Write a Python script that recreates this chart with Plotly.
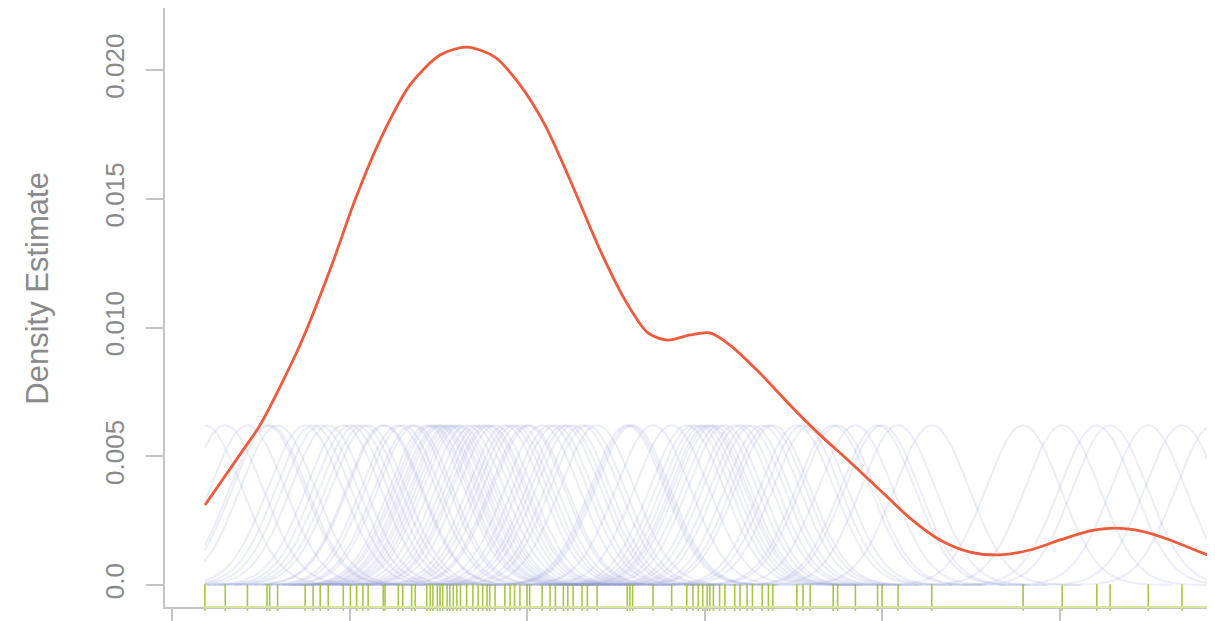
import plotly.graph_objects as go
import numpy as np

# ---- data ----
rug_x = [3.7, 6.0, 8.5, 10.7, 11.0, 11.9, 15.0, 15.9, 16.7, 17.6, 19.3, 20.1, 20.8, 21.5,
         22.1, 23.8, 24.0, 25.5, 26.0, 27.0, 27.4, 28.7, 29.1, 29.4, 29.9, 30.2, 30.5, 31.0,
         31.3, 31.7, 32.1, 32.5, 33.2, 33.9, 34.5, 35.0, 35.5, 35.8, 36.4, 37.5, 38.1, 38.6,
         39.2, 40.0, 40.3, 41.7, 42.6, 43.2, 44.1, 44.6, 45.2, 46.2, 46.8, 47.9, 51.3, 51.6,
         51.9, 54.2, 56.3, 58.0, 58.7, 59.3, 59.8, 60.3, 60.6, 61.0, 61.7, 62.3, 63.4, 64.0,
         64.8, 65.4, 66.5, 67.2, 67.7, 70.4, 71.1, 71.9, 74.5, 75.0, 77.0, 79.5, 80.0, 81.8,
         85.6, 95.9, 100.3, 104.2, 105.7, 110.0, 113.8, 117.3]

density_x = [3.72, 8.0, 9.92, 14.42, 17.80, 20.62, 23.44, 26.82, 30.20, 33.24, 36.39, 39.21,
             42.03, 44.85, 48.23, 51.04, 53.63, 55.89, 58.37, 60.62, 62.87, 66.25, 69.63,
             73.01, 76.39, 79.77, 83.15, 86.54, 89.92, 93.30, 96.68, 100.06, 103.44, 106.25,
             109.07, 112.45, 115.83, 117.30]
density_y = [0.00311, 0.00524, 0.00621, 0.00932, 0.01223, 0.01495, 0.01728, 0.01942, 0.02058,
             0.02089, 0.02050, 0.01942, 0.01786, 0.01573, 0.01301, 0.01107, 0.00979, 0.00951,
             0.00971, 0.00979, 0.00932, 0.00823, 0.00699, 0.00583, 0.00478, 0.00369, 0.00260,
             0.00175, 0.00128, 0.00117, 0.00136, 0.00175, 0.00210, 0.00221, 0.00210, 0.00175,
             0.00128, 0.00109]

kernel_peak = 0.0062
kernel_bw = 4.2

y_tickvals = [0, 0.005, 0.010, 0.015, 0.020]
y_ticktext = ["0.0", "0.005", "0.010", "0.015", "0.020"]
x_tickvals = [0, 20, 40, 60, 80, 100]

fig = go.Figure()

# individual kernels
lo, hi = min(rug_x), max(rug_x)
for r in rug_x:
    xs = np.linspace(max(lo, r - 4 * kernel_bw), min(hi, r + 4 * kernel_bw), 90)
    ys = kernel_peak * np.exp(-0.5 * ((xs - r) / kernel_bw) ** 2)
    fig.add_trace(go.Scatter(x=xs, y=ys, mode="lines",
                             line=dict(color="rgba(135,150,205,0.17)", width=2),
                             hoverinfo="skip", showlegend=False))

# density estimate
fig.add_trace(go.Scatter(x=density_x, y=density_y, mode="lines",
                         line=dict(color="#ee5a3c", width=2.8, shape="spline", smoothing=0.8),
                         showlegend=False))

# rug
rug_y = -0.000485
fig.add_trace(go.Scatter(x=rug_x, y=[rug_y] * len(rug_x), mode="markers",
                         marker=dict(symbol="line-ns", size=19,
                                     line=dict(color="rgba(150,188,40,0.85)", width=1.6)),
                         cliponaxis=False, showlegend=False))

fig.add_shape(type="line", xref="x", yref="paper", x0=lo, x1=hi, y0=0, y1=0,
              line=dict(color="#d6e79a", width=2))

fig.add_annotation(text="Density Estimate", xref="paper", yref="paper",
                   x=-0.121, y=0.533, xanchor="center", yanchor="middle",
                   showarrow=False, textangle=-90,
                   font=dict(family="Liberation Sans, Arial", size=31, color="#8a8a8a"))

fig.update_layout(
    width=1215, height=621,
    margin=dict(l=157, r=8, t=0, b=22),
    paper_bgcolor="white", plot_bgcolor="white",
    font=dict(family="Liberation Sans, Arial", color="#8a8a8a"),
    xaxis=dict(range=[-0.789, 117.52], tickvals=x_tickvals, showticklabels=False,
               ticks="outside", ticklen=16, tickcolor="#c4c4c4", tickwidth=1.5,
               showline=True, linecolor="#c4c4c4", linewidth=1.5,
               showgrid=False, zeroline=False),
    yaxis=dict(range=[-0.000854, 0.022408], tickvals=y_tickvals, ticktext=y_ticktext,
               ticks="outside", ticklen=17, tickcolor="#c4c4c4", tickwidth=1.5,
               tickangle=-90, tickfont=dict(size=26, color="#8a8a8a"),
               ticklabelstandoff=12,
               showline=True, linecolor="#c4c4c4", linewidth=1.5,
               showgrid=False, zeroline=False),
)

fig.write_html("out.html")
